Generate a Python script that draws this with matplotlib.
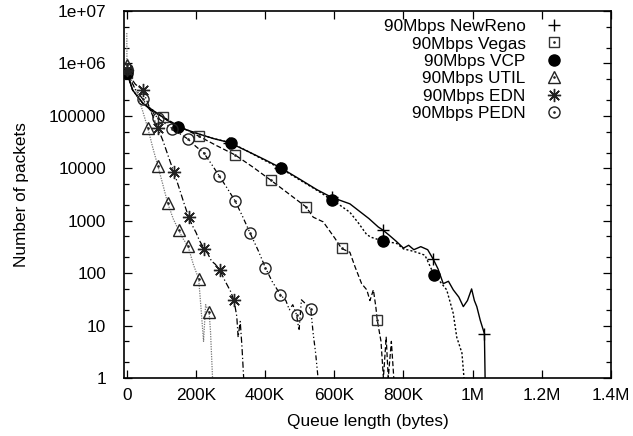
import matplotlib
matplotlib.use("Agg")
import matplotlib.pyplot as plt
from matplotlib.lines import Line2D
from matplotlib.legend_handler import HandlerTuple
import matplotlib.ticker as mticker

plt.rcParams['font.family'] = ['Liberation Sans', 'DejaVu Sans']

# ---------------- data (x in Kbytes) ----------------
newreno_x = [0, 17, 46, 87, 124, 148, 200, 250, 296, 350, 400, 444, 500, 550, 592, 645, 700, 727,
             741, 760, 780, 800, 815, 830, 850, 870, 886, 900, 915, 930, 944, 960, 973, 985, 997,
             1005, 1012, 1022, 1034, 1036]
newreno_y = [7e5, 3.1e5, 1.75e5, 1.13e5, 7.7e4, 6.2e4, 4.7e4, 3.7e4, 3.1e4, 2.1e4, 1.45e4, 1.03e4,
             6.2e3, 3.9e3, 2.8e3, 2.1e3, 1.1e3, 760, 660, 520, 400, 300, 340, 280, 320, 280, 185,
             120, 63, 70, 48, 35, 23, 30, 50, 30, 23, 12.6, 7, 1]
newreno_mx = [0, 148, 296, 444, 592, 741, 886, 1033]
newreno_my = [7e5, 6.2e4, 3.1e4, 1.03e4, 2.8e3, 660, 185, 7]

vegas_x = [0, 17, 46, 75, 104, 150, 208, 260, 313, 365, 416, 470, 518, 539, 568, 602, 621, 645,
           660, 679, 694, 703, 713, 720, 724, 735, 742, 750, 756, 765, 772]
vegas_y = [6.6e5, 3.1e5, 1.75e5, 1.2e5, 9.6e4, 6.4e4, 4.1e4, 2.7e4, 1.8e4, 1.05e4, 5.95e3, 3.2e3,
           1.84e3, 1.17e3, 950, 460, 296, 250, 132, 63, 48, 30, 48, 23, 13, 5, 1, 6, 1, 5, 1]
vegas_mx = [0, 104, 208, 313, 416, 518, 621, 724]
vegas_my = [6.6e5, 9.6e4, 4.1e4, 1.8e4, 5.95e3, 1.84e3, 296, 13]

vcp_x = [0, 17, 46, 87, 124, 148, 200, 250, 301, 350, 400, 445, 500, 550, 592, 620, 645, 670,
         694, 708, 742, 760, 780, 800, 820, 838, 862, 888, 905, 925, 944, 954, 969, 975]
vcp_y = [6.6e5, 3.1e5, 1.75e5, 1.13e5, 7.7e4, 6.1e4, 4.7e4, 3.7e4, 3.07e4, 2.1e4, 1.4e4, 9.95e3,
         6e3, 3.8e3, 2.53e3, 1.9e3, 1.45e3, 900, 540, 480, 407, 390, 370, 290, 270, 250, 220, 94,
         70, 48, 17, 6, 3, 1]
vcp_mx = [0, 148, 301, 445, 592, 742, 888]
vcp_my = [6.6e5, 6.1e4, 3.07e4, 9.95e3, 2.53e3, 407, 94]

util_x = [0, 0.5, 3, 15, 30, 45, 61, 75, 90, 104, 118, 134, 150, 163, 177, 192, 208, 215, 222,
          228, 238, 242, 248]
util_y = [3.8e6, 9.5e5, 7e5, 4.5e5, 2.6e5, 1.3e5, 5.8e4, 2.5e4, 1.1e4, 5e3, 2.2e3, 1.1e3, 660,
          450, 330, 150, 77, 20, 5, 25, 18, 8, 1]
util_mx = [0, 61, 90, 118, 150, 177, 208, 237]
util_my = [9.5e5, 5.8e4, 1.1e4, 2.2e3, 660, 330, 77, 18]

edn_x = [0, 10, 25, 46, 60, 75, 90, 105, 120, 136, 150, 165, 179, 190, 200, 210, 224, 235, 245,
         255, 269, 280, 290, 300, 310, 318, 322, 328, 333, 338]
edn_y = [7.5e5, 5.5e5, 4e5, 3.1e5, 1.8e5, 1e5, 5.8e4, 3.3e4, 1.7e4, 8.5e3, 4.5e3, 2.2e3, 1.17e3,
         800, 600, 420, 290, 230, 170, 150, 117, 80, 60, 45, 30.6, 15, 6, 12, 4, 1]
edn_mx = [0, 46, 90, 136, 179, 224, 269, 310]
edn_my = [7.5e5, 3.1e5, 5.8e4, 8.5e3, 1.17e3, 290, 117, 30.6]

pedn_x = [0, 10, 25, 46, 65, 89, 110, 132, 155, 177, 200, 223, 245, 267, 290, 313, 335, 356, 380,
          401, 420, 444, 460, 470, 480, 491, 498, 505, 520, 532, 539, 546, 553]
pedn_y = [8e5, 5e5, 3.2e5, 2.1e5, 1.35e5, 9.2e4, 7.2e4, 5.7e4, 4.5e4, 3.6e4, 2.6e4, 1.95e4,
          1.2e4, 7.2e3, 4.2e3, 2.4e3, 1.2e3, 590, 270, 126, 70, 39, 30, 20, 25, 16, 8, 31, 25,
          20.6, 7, 3, 1]
pedn_mx = [0, 46, 89, 132, 177, 223, 267, 313, 356, 401, 444, 491, 532]
pedn_my = [8e5, 2.1e5, 9.2e4, 5.7e4, 3.6e4, 1.95e4, 7.2e3, 2.4e3, 590, 126, 39, 16, 20.6]

labels = ["90Mbps NewReno", "90Mbps Vegas", "90Mbps VCP", "90Mbps UTIL", "90Mbps EDN", "90Mbps PEDN"]

x_ticks = [0, 200, 400, 600, 800, 1000, 1200, 1400]
x_ticklabels = ["0", "200K", "400K", "600K", "800K", "1M", "1.2M", "1.4M"]
y_ticks = [1, 10, 100, 1000, 10000, 100000, 1e6, 1e7]
y_ticklabels = ["1", "10", "100", "1000", "10000", "100000", "1e+06", "1e+07"]

# ---------------- figure ----------------
W, H = 633, 436
fig = plt.figure(figsize=(W / 100, H / 100), dpi=100)
L, R, T, B = 124, 611, 11, 378
ax = fig.add_axes([L / W, 1 - B / H, (R - L) / W, (B - T) / H])

FS = 12.4
K = 1000.0

def kx(xs):
    return [v * K for v in xs]

series = [
    (newreno_x, newreno_y, newreno_mx, newreno_my, dict(color='black', ls='-', lw=1.0),
     dict(marker='+', ms=9, mew=1.0, mfc='none', mec='black'), False),
    (vegas_x, vegas_y, vegas_mx, vegas_my, dict(color='black', ls=(0, (4, 2)), lw=0.9),
     dict(marker='s', ms=7.5, mew=1.0, mfc='none', mec='#333333'), True),
    (vcp_x, vcp_y, vcp_mx, vcp_my, dict(color='black', ls=(0, (1.5, 1.5)), lw=1.0),
     dict(marker='o', ms=8, mew=1.0, mfc='black', mec='black'), False),
    (util_x, util_y, util_mx, util_my, dict(color='#777777', ls=(0, (1, 1)), lw=0.9),
     dict(marker='^', ms=8, mew=1.0, mfc='none', mec='#222222'), True),
    (edn_x, edn_y, edn_mx, edn_my, dict(color='black', ls=(0, (5, 2, 1, 2)), lw=0.9),
     dict(marker=(8, 2, 0), ms=9.5, mew=1.0, mfc='none', mec='#222222'), False),
    (pedn_x, pedn_y, pedn_mx, pedn_my, dict(color='black', ls=(0, (4, 2, 1, 2, 1, 2)), lw=0.9),
     dict(marker='o', ms=8, mew=1.0, mfc='none', mec='#222222'), True),
]

handles = []
for xs, ys, mx, my, lstyle, mstyle, dot in series:
    ax.plot(kx(xs), ys, zorder=2, **lstyle)
    ax.plot(kx(mx), my, ls='none', zorder=3, **mstyle)
    h = Line2D([], [], ls='none', **mstyle)
    if dot:
        ax.plot(kx(mx), my, ls='none', marker='.', ms=1.8, color='#222222', zorder=4)
        d = Line2D([], [], ls='none', marker='.', ms=1.8, color='#222222')
        handles.append((h, d))
    else:
        handles.append(h)

ax.set_yscale('log')
ax.set_xlim(-8000, 1400000)
ax.set_ylim(1, 1e7)

ax.set_xticks([v * K for v in x_ticks])
ax.set_xticklabels(x_ticklabels)
ax.set_yticks(y_ticks)
ax.set_yticklabels(y_ticklabels)
ax.yaxis.set_minor_locator(mticker.LogLocator(base=10, subs=[2, 5], numticks=20))
ax.yaxis.set_minor_formatter(mticker.NullFormatter())
ax.xaxis.set_minor_locator(mticker.NullLocator())

ax.tick_params(axis='both', which='major', direction='in', length=6, width=0.9,
               top=True, right=True, labelsize=FS)
ax.tick_params(axis='y', which='minor', direction='in', length=3.5, width=0.9,
               left=True, right=True)
ax.tick_params(axis='x', which='major', pad=7)
ax.tick_params(axis='y', which='major', pad=13)
for s in ax.spines.values():
    s.set_linewidth(1.2)

ax.set_xlabel("Queue length (bytes)", fontsize=FS, labelpad=8)
ax.set_ylabel("Number of packets", fontsize=FS, labelpad=14)

leg = ax.legend(handles, labels, loc='upper right',
                bbox_to_anchor=(566 / W, 1 - 19 / H), bbox_transform=fig.transFigure,
                frameon=False, markerfirst=False, fontsize=FS, labelspacing=0.14,
                handlelength=1.4, handletextpad=0.95, borderpad=0, borderaxespad=0,
                handler_map={tuple: HandlerTuple(ndivide=1, pad=0)})

fig.savefig("out.png", dpi=100)
